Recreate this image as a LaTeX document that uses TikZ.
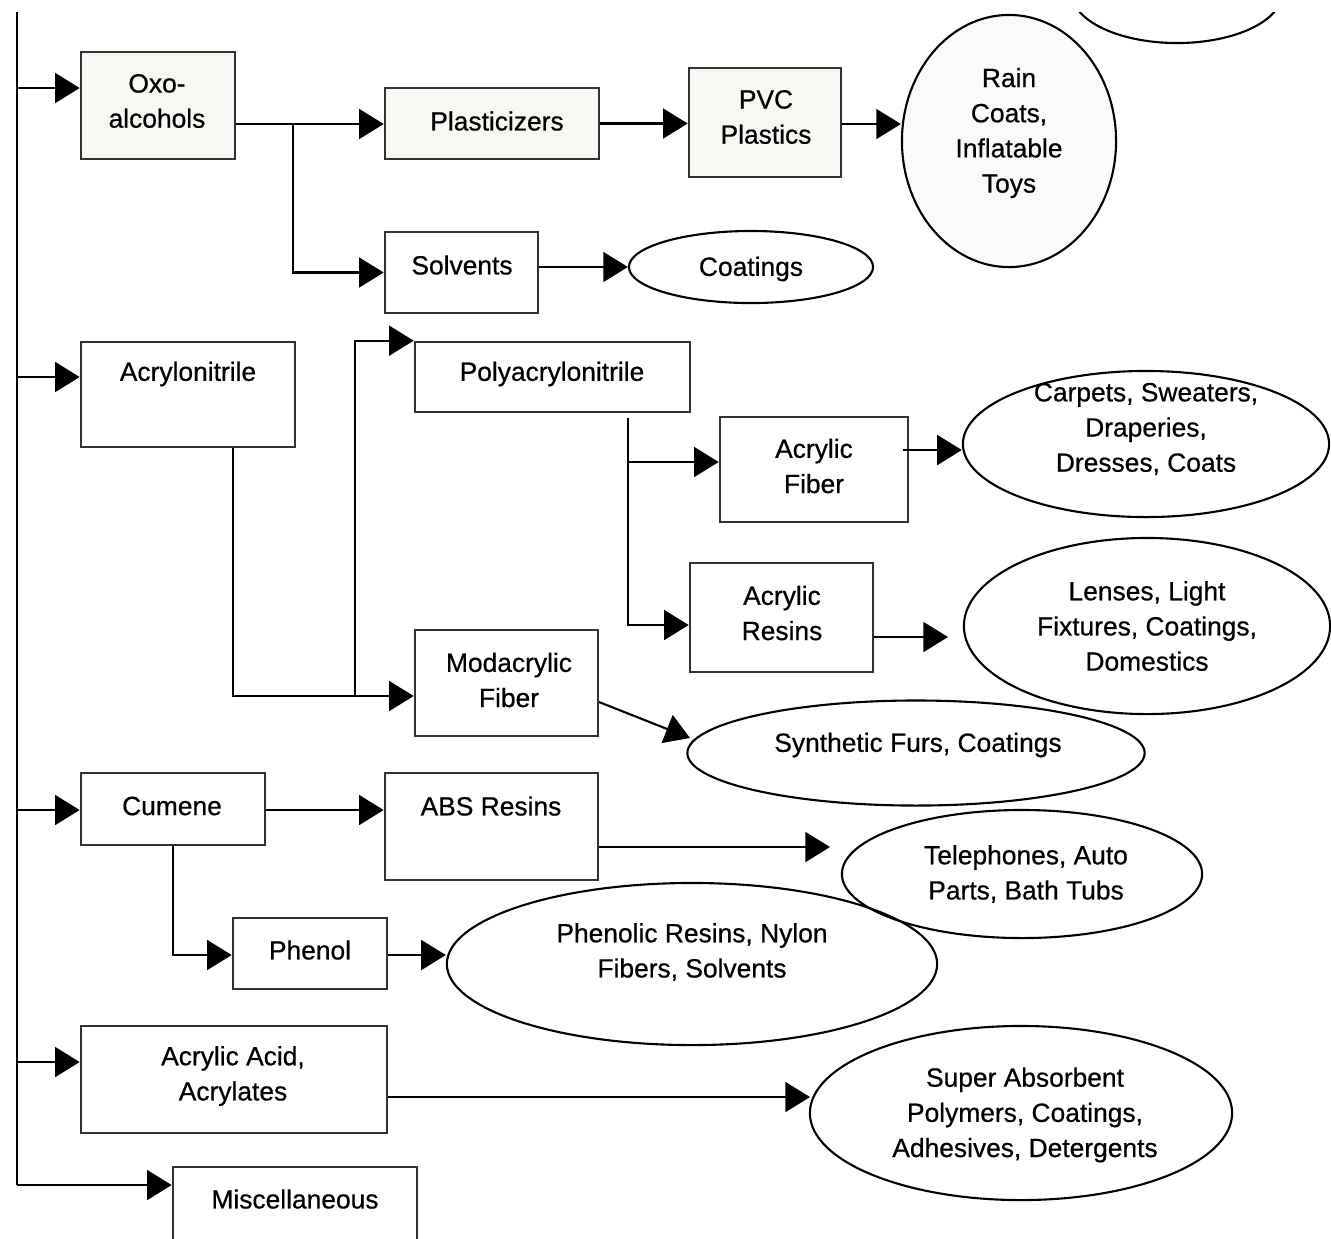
\documentclass[tikz,border=0pt]{standalone}
\usepackage{fontspec}
\setmainfont{Liberation Sans}[FakeBold=0.6]
\usetikzlibrary{arrows.meta,shapes.geometric,fit}
\definecolor{boxfill}{RGB}{246,248,243}
\definecolor{ellfill}{RGB}{250,251,248}
\definecolor{edge}{RGB}{50,50,50}
\begin{document}
\begin{tikzpicture}[x=0.01cm, y=-0.01cm,
  box/.style={draw=edge, line width=0.75pt, inner sep=0pt},
  tint/.style={fill=boxfill},
  ell/.style={ellipse, draw=black, line width=0.6pt, inner sep=0pt},
  txt/.style={font=\fontsize{7.5pt}{10pt}\selectfont, align=center, inner sep=0pt},
  conn/.style={line width=0.6pt, draw=black},
  arr/.style={conn, -{Triangle[length=7pt,width=8.5pt]}}]

\useasboundingbox (0,0) rectangle (1331,1238);
\clip (0,12) rectangle (1331,1238);

% ---------- process boxes ----------
\node[box,tint,fit={(81,52) (235,159)}]  (oxo)   {};
\node[box,tint,fit={(385,88) (599,159)}] (plast) {};
\node[box,tint,fit={(689,68) (841,177)}] (pvc)   {};
\node[box,fit={(385,232) (538,313)}]     (solv)  {};
\node[box,fit={(81,342) (295,447)}]      (acn)   {};
\node[box,fit={(415,342) (690,412)}]     (poly)  {};
\node[box,fit={(720,417) (908,522)}]     (fiber) {};
\node[box,fit={(690,563) (873,672)}]     (resin) {};
\node[box,fit={(415,630) (598,736)}]     (mod)   {};
\node[box,fit={(81,773) (265,845)}]      (cum)   {};
\node[box,fit={(385,773) (598,880)}]     (abs)   {};
\node[box,fit={(233,918) (387,989)}]     (phen)  {};
\node[box,fit={(81,1026) (387,1133)}]    (aa)    {};
\node[box,fit={(173,1167) (417,1250)}]   (misc)  {};

% ---------- end-use ellipses ----------
\node[ell, minimum width=2.10cm, minimum height=1.00cm] (topell) at (1177,-7) {};
\node[ell, fill=ellfill, minimum width=2.14cm, minimum height=2.52cm] (rain) at (1009,141) {};
\node[ell, minimum width=2.44cm, minimum height=0.72cm] (coat)  at (751,267)  {};
\node[ell, minimum width=3.66cm, minimum height=1.46cm] (carp)  at (1146,444) {};
\node[ell, minimum width=3.66cm, minimum height=1.76cm] (lens)  at (1147,626) {};
\node[ell, minimum width=4.57cm, minimum height=1.05cm] (synth) at (916,753)  {};
\node[ell, minimum width=3.60cm, minimum height=1.28cm] (tel)   at (1022,874) {};
\node[ell, minimum width=4.90cm, minimum height=1.62cm] (pres)  at (692,964)  {};
\node[ell, minimum width=4.22cm, minimum height=1.74cm] (sap)   at (1021,1113) {};

% ---------- labels ----------
\node[txt] (oxo-t)   at (157,101)  {Oxo-\\alcohols};
\node[txt] (plast-t) at (497,121)  {Plasticizers};
\node[txt] (pvc-t)   at (766,117)  {PVC\\Plastics};
\node[txt] (rain-t)  at (1009,133) {Rain\\Coats,\\Inflatable\\Toys};
\node[txt] (solv-t)  at (462,265)  {Solvents};
\node[txt] (coat-t)  at (751,269)  {Coatings};
\node[txt] (acn-t)   at (188,374)  {Acrylonitrile};
\node[txt] (poly-t)  at (552,374)  {Polyacrylonitrile};
\node[txt] (fiber-t) at (814,466)  {Acrylic\\Fiber};
\node[txt] (carp-t)  at (1146,429) {Carpets, Sweaters,\\Draperies,\\Dresses, Coats};
\node[txt] (resin-t) at (782,613)  {Acrylic\\Resins};
\node[txt] (lens-t)  at (1147,626) {Lenses, Light\\Fixtures, Coatings,\\Domestics};
\node[txt] (mod-t)   at (509,680)  {Modacrylic\\Fiber};
\node[txt] (synth-t) at (918,745)  {Synthetic Furs, Coatings};
\node[txt] (cum-t)   at (172,806)  {Cumene};
\node[txt] (abs-t)   at (491,806)  {ABS Resins};
\node[txt] (tel-t)   at (1026,874) {Telephones, Auto\\Parts, Bath Tubs};
\node[txt] (phen-t)  at (310,950)  {Phenol};
\node[txt] (pres-t)  at (692,952)  {Phenolic Resins, Nylon\\Fibers, Solvents};
\node[txt] (aa-t)    at (233,1076) {Acrylic Acid,\\Acrylates};
\node[txt] (sap-t)   at (1025,1115) {Super Absorbent\\Polymers, Coatings,\\Adhesives, Detergents};
\node[txt] (misc-t)  at (295,1199) {Miscellaneous};

% ---------- main feed line ----------
\coordinate (ttop) at (17,12);
\coordinate (tbot) at (17,1185);
\coordinate (j1) at (17,88);
\coordinate (j2) at (17,377);
\coordinate (j3) at (17,810);
\coordinate (j4) at (17,1062);
\draw[conn] (ttop) -- (tbot);
\draw[arr] (tbot) -- (tbot -| misc.west);
\draw[arr] (j1) -- (j1 -| oxo.west);
\draw[arr] (j2) -- (j2 -| acn.west);
\draw[arr] (j3) -- (j3 -| cum.west);
\draw[arr] (j4) -- (j4 -| aa.west);

% ---------- oxo-alcohols branch ----------
\coordinate (b1) at (293,124);
\draw[arr] (b1 -| oxo.east) -- (b1 -| plast.west);
\draw[arr] (b1) |- (solv.west);
\draw[arr] (plast.east) -- (plast.east -| pvc.west);
\draw[arr] (b1 -| pvc.east) -- (b1 -| rain.west);
\draw[arr] (coat.west -| solv.east) -- (coat.west);

% ---------- acrylonitrile branch ----------
\coordinate (k1) at (233,696);
\coordinate (k2) at (355,696);
\draw[arr] (k1 |- acn.south) -- (k1) -- (k1 -| mod.west);
\draw[arr] (k2) |- (poly.north west);
\coordinate (p1) at (628,418);
\coordinate (p2) at (628,625);
\coordinate (p3) at (628,462);
\draw[arr] (p1) -- (p2) -- (p2 -| resin.west);
\draw[arr] (p3) -- (p3 -| fiber.west);
\coordinate (f1) at (903,450);
\draw[arr] (f1) -- (f1 -| carp.west);
\coordinate (r1) at (948,637);
\draw[arr] (r1 -| resin.east) -- (r1);
\coordinate (m1) at (599,702);
\coordinate (m2) at (690,738);
\draw[arr] (m1) -- (m2);

% ---------- cumene branch ----------
\draw[arr] (j3 -| cum.east) -- (j3 -| abs.west);
\coordinate (c1) at (173,955);
\draw[arr] (c1 |- cum.south) -- (c1) -- (c1 -| phen.west);
\coordinate (a1) at (830,847);
\draw[arr] (a1 -| abs.east) -- (a1);
\draw[arr] (c1 -| phen.east) -- (c1 -| pres.west);

% ---------- acrylic acid branch ----------
\coordinate (s1) at (810,1097);
\draw[arr] (s1 -| aa.east) -- (s1);

\end{tikzpicture}
\end{document}
